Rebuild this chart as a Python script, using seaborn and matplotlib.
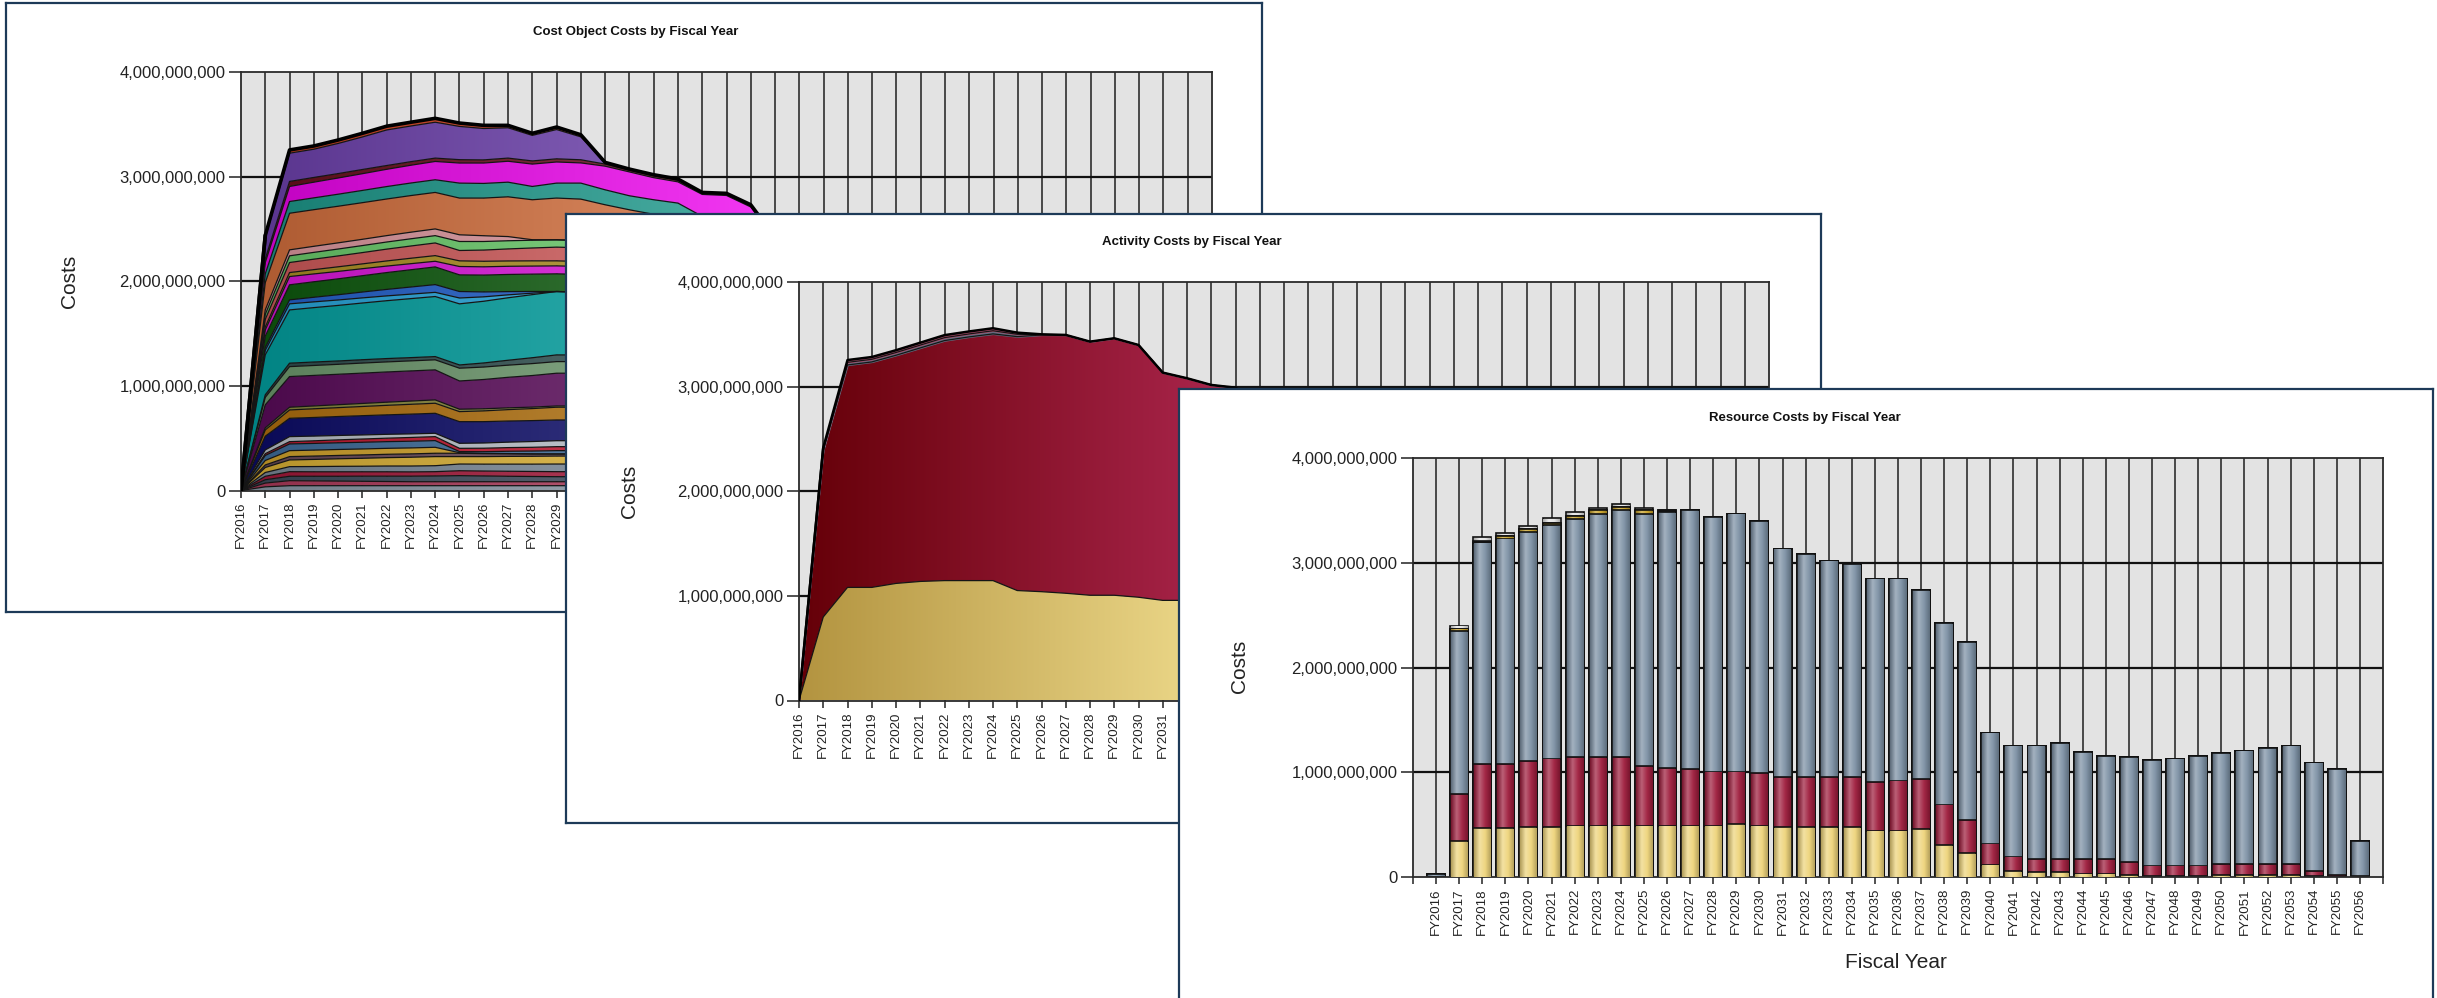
import numpy as np
import matplotlib
matplotlib.use("Agg")
import matplotlib.pyplot as plt
import seaborn as sns
from matplotlib.colors import LinearSegmentedColormap, to_rgb
from matplotlib.ticker import FuncFormatter

B = 1e9
years = ["FY%d" % y for y in range(2016, 2057)]

# ---- Cost object costs (billions), FY2016..FY2038, bottom layer first
co_base_slate = [0, .035, .046, .046, .046, .046, .046, .046, .046, .046, .046, .046, .046, .046, .046, .045, .045, .044, .044, .042, .042, .042, .035]
co_rose = [0, .036, .048, .046, .044, .042, .040, .038, .038, .038, .038, .038, .038, .038, .038, .037, .037, .036, .036, .035, .035, .035, .030]
co_dark_slate = [0, .032, .042, .044, .046, .049, .051, .053, .055, .058, .055, .052, .050, .048, .048, .047, .047, .046, .046, .044, .044, .044, .040]
co_crimson = [0, .033, .044, .043, .043, .042, .042, .041, .041, .047, .047, .048, .048, .048, .048, .047, .047, .046, .046, .044, .044, .044, .040]
co_slate = [0, .036, .048, .050, .052, .053, .055, .056, .057, .064, .066, .068, .070, .073, .073, .072, .071, .070, .070, .068, .068, .068, .060]
co_gold = [0, .048, .064, .068, .072, .076, .080, .084, .087, .071, .072, .074, .075, .076, .076, .075, .075, .074, .073, .070, .070, .070, .060]
co_mauve = [0, .024, .032, .032, .032, .032, .032, .032, .032, .032, .028, .025, .022, .020, .020, .020, .020, .020, .020, .019, .019, .019, .016]
co_gold2 = [0, .043, .057, .057, .057, .057, .057, .057, .057, .005, .003, .002, .001, 0, 0, 0, 0, 0, 0, 0, 0, 0, 0]
co_steel = [0, .048, .064, .064, .064, .064, .064, .064, .064, .011, .016, .022, .027, .032, .032, .031, .031, .030, .030, .028, .028, .028, .024]
co_red = [0, .017, .022, .025, .028, .031, .033, .036, .038, .031, .033, .035, .036, .038, .038, .037, .037, .036, .036, .034, .034, .034, .030]
co_silver = [0, .036, .048, .045, .042, .039, .037, .034, .032, .048, .050, .052, .055, .057, .057, .056, .055, .054, .054, .052, .052, .052, .045]
co_navy = [0, .131, .175, .178, .181, .184, .186, .189, .191, .207, .204, .202, .200, .198, .198, .195, .193, .190, .189, .182, .182, .180, .150]
co_goldenrod = [0, .060, .080, .083, .085, .088, .091, .094, .096, .096, .103, .109, .115, .122, .122, .120, .118, .116, .115, .110, .110, .108, .090]
co_olive = [0, .020, .026, .027, .028, .029, .030, .031, .032, .023, .020, .017, .014, .012, .012, .012, .012, .012, .012, .011, .011, .011, .010]
co_plum = [0, .220, .293, .292, .291, .290, .289, .288, .287, .270, .280, .292, .302, .313, .313, .310, .305, .300, .298, .290, .290, .285, .250]
co_sage = [0, .071, .095, .095, .095, .096, .096, .096, .096, .122, .119, .116, .114, .111, .111, .110, .109, .108, .107, .104, .104, .102, .090]
co_dark_teal = [0, .025, .033, .033, .032, .032, .032, .031, .031, .031, .039, .047, .056, .064, .064, .063, .062, .061, .060, .058, .058, .057, .050]
co_teal = [0, .382, .509, .520, .531, .542, .553, .564, .574, .584, .590, .597, .603, .606, .600, .590, .580, .570, .560, .540, .530, .510, .450]
co_sky = [0, .043, .058, .055, .052, .049, .046, .043, .040, .056, .042, .028, .014, 0, 0, 0, 0, 0, 0, 0, 0, 0, 0]
co_blue = [0, .028, .038, .044, .050, .056, .062, .068, .074, .062, .047, .031, .016, 0, 0, 0, 0, 0, 0, 0, 0, 0, 0]
co_green = [0, .108, .144, .148, .152, .156, .161, .165, .169, .159, .161, .164, .166, .169, .169, .166, .163, .160, .158, .150, .150, .145, .125]
co_fuchsia = [0, .059, .079, .075, .071, .067, .062, .058, .054, .080, .079, .078, .077, .076, .076, .075, .074, .073, .072, .069, .069, .067, .058]
co_ochre = [0, .029, .038, .041, .044, .046, .049, .052, .054, .054, .053, .051, .050, .048, .048, .047, .046, .045, .045, .043, .043, .042, .036]
co_salmon = [0, .072, .096, .100, .104, .108, .113, .117, .121, .099, .107, .115, .123, .131, .131, .128, .126, .123, .122, .116, .116, .113, .098]
co_lime = [0, .048, .064, .065, .066, .067, .068, .069, .070, .086, .082, .078, .074, .070, .070, .069, .068, .067, .066, .063, .063, .061, .053]
co_pink = [0, .043, .057, .058, .059, .060, .061, .063, .064, .064, .055, .040, .005, 0, 0, 0, 0, 0, 0, 0, 0, 0, 0]
co_orange = [0, .26, .35, .35, .35, .35, .35, .35, .349, .351, .36, .38, .382, .399, .395, .379, .362, .359, .351, .318, .308, .253, .24]
co_teal2 = [0, .084, .112, .113, .115, .117, .119, .12, .121, .143, .14, .14, .127, .143, .153, .143, .134, .139, .137, .13, .13, .13, .12]
co_magenta = [0, .108, .144, .15, .155, .16, .165, .17, .175, .192, .195, .2, .214, .202, .193, .226, .228, .211, .203, .21, .22, .21, .2]
co_maroon = [0, .036, .048, .045, .042, .04, .036, .034, .032, .032, .03, .03, .03, .03, .03, .02, .017, .018, .017, .01, .01, .01, .01]
co_violet = [0, .20, .27, .27, .288, .311, .34, .341, .343, .318, .30, .29, .244, .28, .219, .01, .005, .005, .005, .005, .005, .006, .005]
co_scarlet = [0, .024, .031, .031, .033, .035, .036, .036, .037, .032, .03, .023, .02, .024, .02, .006, .005, .005, .005, .004, .005, .005, .005]

co_layers = [
    (co_base_slate, "#8E9CAB"), (co_rose, "#B23A5C"), (co_dark_slate, "#3D4A5C"),
    (co_crimson, "#A8173A"), (co_slate, "#7D8C9C"), (co_gold, "#E2B634"),
    (co_mauve, "#6B4A5A"), (co_gold2, "#D9A82A"), (co_steel, "#3F6F9F"),
    (co_red, "#C8142E"), (co_silver, "#BFC6CE"), (co_navy, "#0B0B6B"),
    (co_goldenrod, "#B5720C"), (co_olive, "#8A8A3A"), (co_plum, "#5C0A5C"),
    (co_sage, "#6F9C6F"), (co_dark_teal, "#2E4F4F"), (co_teal, "#00A3A3"),
    (co_sky, "#25A8E0"), (co_blue, "#2060D0"), (co_green, "#0B5A0B"),
    (co_fuchsia, "#E012E0"), (co_ochre, "#B09020"), (co_salmon, "#D45A5A"),
    (co_lime, "#6BD06B"), (co_pink, "#E39AA2"), (co_orange, "#D8703C"),
    (co_teal2, "#1A9A8C"), (co_magenta, "#F000F0"), (co_maroon, "#6A0A1A"),
    (co_violet, "#6E40B0"), (co_scarlet, "#D8401C"),
]

# ---- Activity costs (billions), FY2016..FY2056
act_direct = [0, .798, 1.081, 1.081, 1.119, 1.138, 1.146, 1.146, 1.146, 1.051, 1.040, 1.025, 1.006, 1.006, .987, .957, .957, .957, .957, .906, .919, .931, .692, .542, .319, .195, .169, .169, .169, .169, .144, .108, .108, .108, .121, .121, .121, .121, .057, .019, .005]
act_support = [0, 1.592, 2.126, 2.155, 2.181, 2.232, 2.294, 2.329, 2.358, 2.427, 2.454, 2.469, 2.424, 2.456, 2.411, 2.177, 2.123, 2.059, 2.033, 1.942, 1.929, 1.806, 1.735, 1.697, 1.059, 1.059, 1.085, 1.110, 1.024, .986, .998, 1.008, 1.021, 1.047, 1.059, 1.085, 1.110, 1.133, 1.034, 1.011, .340]
act_gray = [0, .015, .025, .025, .026, .027, .028, .028, .030, .022, .004, 0, 0, 0, 0, 0, 0, 0, 0, 0, 0, 0, 0, 0, 0, 0, 0, 0, 0, 0, 0, 0, 0, 0, 0, 0, 0, 0, 0, 0, 0]
act_pink = [0, .012, .022, .022, .022, .023, .024, .024, .024, .016, .002, 0, 0, 0, 0, 0, 0, 0, 0, 0, 0, 0, 0, 0, 0, 0, 0, 0, 0, 0, 0, 0, 0, 0, 0, 0, 0, 0, 0, 0, 0]

# ---- Resource costs (billions), FY2016..FY2056
res_yellow = [0, .345, .469, .469, .478, .478, .491, .491, .491, .491, .491, .491, .491, .504, .491, .478, .478, .478, .478, .443, .443, .456, .306, .230, .118, .057, .045, .045, .032, .032, .019, .010, .010, .010, .019, .019, .019, .019, .005, 0, 0]
res_red = [0, .446, .609, .609, .626, .651, .651, .651, .651, .565, .552, .539, .514, .501, .501, .476, .476, .476, .476, .463, .476, .475, .386, .312, .201, .138, .124, .124, .137, .137, .125, .098, .098, .098, .102, .102, .102, .102, .052, .019, .005]
res_gray = [.03, 1.557, 2.115, 2.153, 2.191, 2.227, 2.277, 2.325, 2.364, 2.411, 2.440, 2.469, 2.427, 2.465, 2.405, 2.182, 2.131, 2.067, 2.032, 1.942, 1.929, 1.806, 1.735, 1.697, 1.059, 1.059, 1.085, 1.110, 1.024, .986, .998, 1.008, 1.021, 1.047, 1.059, 1.085, 1.110, 1.133, 1.034, 1.011, .340]
res_gold = [0, .022, 0, .023, .029, .025, .026, .032, .028, .032, 0, 0, 0, 0, 0, 0, 0, 0, 0, 0, 0, 0, 0, 0, 0, 0, 0, 0, 0, 0, 0, 0, 0, 0, 0, 0, 0, 0, 0, 0, 0]
res_black = [0, 0, .013, 0, 0, 0, 0, 0, 0, 0, .016, 0, 0, 0, 0, 0, 0, 0, .009, 0, 0, 0, 0, 0, 0, 0, 0, 0, 0, 0, 0, 0, 0, 0, 0, 0, 0, 0, 0, 0, 0]
res_light = [0, .03, .038, .031, .025, .042, .041, .023, .026, .023, 0, 0, 0, 0, 0, 0, 0, 0, 0, 0, 0, 0, 0, 0, 0, 0, 0, 0, 0, 0, 0, 0, 0, 0, 0, 0, 0, 0, 0, 0, 0]

sns.set_style("ticks")
plt.rcParams["font.family"] = ["Liberation Sans", "DejaVu Sans"]

W, H = 2437, 998
fig = plt.figure(figsize=(W / 100, H / 100), dpi=100)
fig.patch.set_facecolor("white")


def shade(c, f):
    r = np.array(to_rgb(c))
    if f < 1:
        return tuple(r * f)
    return tuple(r + (1 - r) * (f - 1))


def box(x0, y0, x1, y1):
    return [x0 / W, 1 - y1 / H, (x1 - x0) / W, (y1 - y0) / H]


def frame(x0, y0, x1, y1):
    fa = fig.add_axes(box(x0, y0, x1, y1))
    fa.set_xticks([])
    fa.set_yticks([])
    fa.set_facecolor("white")
    for s in fa.spines.values():
        s.set_visible(True)
        s.set_color("#1d3a58")
        s.set_linewidth(1.6)
    return fa


def labels(fa, title, tx, ty, cx, cy):
    fa.text(tx / W, 1 - ty / H, title, transform=fig.transFigure, ha="center",
            va="center", fontsize=9.5, fontweight="bold", color="#111")
    fa.text(cx / W, 1 - cy / H, "Costs", transform=fig.transFigure, ha="center",
            va="center", rotation=90, fontsize=15, color="#222")


def setup(ax, xlim, grid_x):
    ax.set_facecolor("#E3E3E3")
    for g in grid_x:
        ax.axvline(g, color="#1e1e1e", lw=1.1, zorder=1)
    for v in [1e9, 2e9, 3e9]:
        ax.axhline(v, color="#111111", lw=1.6, zorder=1)
    ax.set_xlim(*xlim)
    ax.set_ylim(0, 4e9)
    ax.set_yticks([0, 1e9, 2e9, 3e9, 4e9])
    ax.yaxis.set_major_formatter(FuncFormatter(lambda v, p: f"{v:,.0f}"))
    ax.tick_params(axis="y", left=True, length=9, width=1.1, pad=2,
                   labelsize=12, colors="#222")
    ax.tick_params(axis="x", bottom=True, length=5, width=1.1, pad=3,
                   labelsize=9.5, labelrotation=90, colors="#222")
    for s in ax.spines.values():
        s.set_visible(True)
        s.set_color("#2a2a2a")
        s.set_linewidth(1.3)
    ax.set_xlabel("")
    ax.set_ylabel("")


def grad_fill(ax, x, lo, hi, c_left, c_right, x0, x1, z):
    poly = ax.fill_between(x, lo, hi, facecolor="none", edgecolor="none", zorder=z)
    xs = np.linspace(0, 40, 400)
    t = np.clip((xs - x0) / (x1 - x0), 0, 1)
    cmap = LinearSegmentedColormap.from_list("g", [c_left, c_right])
    im = ax.imshow(t[None, :], cmap=cmap, vmin=0, vmax=1, extent=[0, 40, 0, 4.2e9],
                   aspect="auto", origin="lower", zorder=z, interpolation="bilinear")
    im.set_clip_path(poly.get_paths()[0], transform=ax.transData)


# ================= Panel 1: cost objects (stacked area)
frame(6, 3, 1262, 612)
ax1 = fig.add_axes(box(241, 72, 1212, 490.5))
x1 = np.arange(len(co_base_slate))
cum = np.zeros(len(x1))
for vals, col in co_layers:
    hi = cum + np.array(vals) * B
    grad_fill(ax1, x1, cum, hi, shade(col, 0.8), shade(col, 1.22), 0, 22, 2)
    ax1.plot(x1, hi, color="#151515", lw=0.9, zorder=3)
    cum = hi
sns.lineplot(x=x1, y=cum, color="black", lw=2.6, ax=ax1, zorder=4)
ax1.plot([0, 1], [0, cum[1]], color="black", lw=2.6, zorder=4)
setup(ax1, (0, 40), range(1, 40))
ax1.set_xticks(range(41))
# only the labels left of the activity panel can be seen
ax1.set_xticklabels(years[:14] + [""] * 27)
labels(ax1, "Cost Object Costs by Fiscal Year", 636, 32, 69, 281)

# ================= Panel 2: activities (stacked area)
frame(566, 214, 1821, 823)
ax2 = fig.add_axes(box(799, 282, 1769, 700.5))
x2 = np.arange(len(years))
y_a = np.array(act_direct) * B
y_b = y_a + np.array(act_support) * B
y_c = y_b + np.array(act_gray) * B
y_d = y_c + np.array(act_pink) * B
grad_fill(ax2, x2, 0, y_a, "#B39440", "#EDD98A", 0, 17, 2)
grad_fill(ax2, x2, y_a, y_b, "#650008", "#A8244A", 0, 17, 2)
ax2.fill_between(x2, y_b, y_c, color="#5E6E80", zorder=2)
ax2.fill_between(x2, y_c, y_d, color="#B04A6A", zorder=2)
for yy in (y_a, y_b, y_c):
    ax2.plot(x2, yy, color="#151515", lw=0.9, zorder=3)
sns.lineplot(x=x2, y=y_d, color="black", lw=1.8, ax=ax2, zorder=4)
ax2.plot([0, 1], [0, y_d[1]], color="black", lw=1.8, zorder=4)
setup(ax2, (0, 40), range(1, 40))
ax2.set_xticks(range(41))
ax2.set_xticklabels(years[:16] + [""] * 25)
labels(ax2, "Activity Costs by Fiscal Year", 1192, 242, 629, 491)

# ================= Panel 3: resources (stacked bars)
frame(1179, 389, 2433, 1015)
ax3 = fig.add_axes(box(1413, 458, 2383, 877))
c1 = np.array(res_yellow) * B
c2 = c1 + np.array(res_red) * B
c3 = c2 + np.array(res_gray) * B
c4 = c3 + np.array(res_gold) * B
c5 = c4 + np.array(res_black) * B
c6 = c5 + np.array(res_light) * B
bar_layers = [(c6, "#E4E4E4"), (c5, "#1A1A1A"), (c4, "#C9A227"),
              (c3, "#7C90A4"), (c2, "#9E1C3C"), (c1, "#EED47A")]
for k, (vals, col) in enumerate(bar_layers):
    z = 2 + k * 0.1
    n0 = len(ax3.patches)
    sns.barplot(x=years, y=vals, color=col, width=0.78, saturation=1,
                errorbar=None, edgecolor="#111111", linewidth=1.2, zorder=z, ax=ax3)
    for p in ax3.patches[n0:]:
        h = p.get_height()
        if h <= 1.5e7:
            continue
        px, pw = p.get_x(), p.get_width()
        cm = LinearSegmentedColormap.from_list(
            "b", [shade(col, 0.74), shade(col, 1.3), shade(col, 1.05), shade(col, 0.76)])
        ax3.imshow(np.linspace(0, 1, 64)[None, :], cmap=cm, vmin=0, vmax=1,
                   extent=[px + 0.04, px + pw - 0.04, 0, h - 1.2e7], aspect="auto",
                   zorder=z + 0.05, interpolation="bilinear")
setup(ax3, (-1, 41), range(0, 41))
ax3.set_xticks(range(-1, 42))
ax3.set_xticklabels([""] + years + [""])
labels(ax3, "Resource Costs by Fiscal Year", 1805, 418, 1240, 666)
ax3.text(1896 / W, 1 - 962 / H, "Fiscal Year", transform=fig.transFigure,
         ha="center", va="center", fontsize=15, color="#222")

fig.savefig("out.png", dpi=100)
